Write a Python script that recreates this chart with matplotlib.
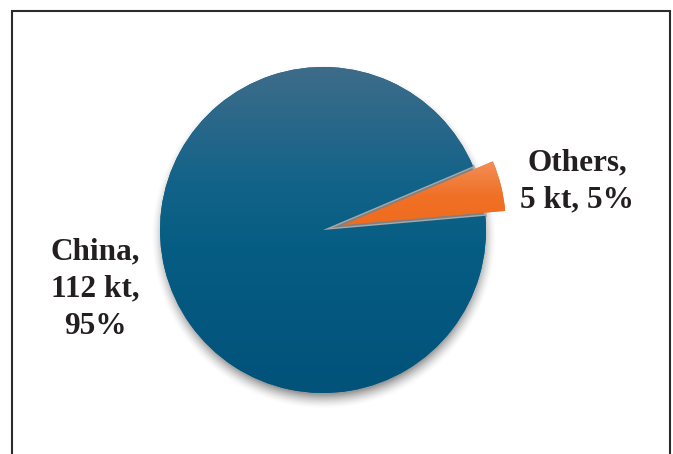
import numpy as np
import matplotlib
matplotlib.use("Agg")
import matplotlib.pyplot as plt
from matplotlib.colors import LinearSegmentedColormap
from matplotlib.patches import Rectangle, Wedge

# data
regions = ['China', 'Others']
amounts_kt = [112, 5]
shares_pct = [95, 5]

W, H, DPI = 673, 454, 100
fig = plt.figure(figsize=(W / DPI, H / DPI), dpi=DPI)
ax = fig.add_axes([0, 0, 1, 1])

wedges, _ = ax.pie(shares_pct, startangle=23, explode=[0, 0.125],
                   colors=['#0a5c82', '#f07025'], radius=1.0,
                   wedgeprops=dict(linewidth=0))

cmaps = [
    LinearSegmentedColormap.from_list('china', [(0, '#3e6c8a'), (0.35, '#136389'),
                                                (0.55, '#065d83'), (1, '#02527a')]),
    LinearSegmentedColormap.from_list('other', [(0, '#f38e58'), (0.55, '#f07025'),
                                                (1, '#ef6c1f')]),
]

# soft shadow under the whole pie
pie = wedges[0]
cx, cy = pie.center
r = pie.r
gx = np.linspace(cx - 1.3, cx + 1.3, 400)
gy = np.linspace(cy - 1.3, cy + 1.3, 400)
X, Y = np.meshgrid(gx, gy)
d = np.hypot(X - cx - 0.005, Y - cy + 0.04)
a = np.clip(1 - (d - (r - 0.03)) / 0.09, 0, 1) ** 1.6 * 0.6
shadow = np.zeros((400, 400, 4))
shadow[..., :3] = 0.33
shadow[..., 3] = a
ax.imshow(shadow, extent=(gx[0], gx[-1], gy[0], gy[-1]), origin='lower',
          zorder=0, interpolation='bilinear')

# shadow of the exploded slice falling on the pie
oth = wedges[1]
sh = Wedge((cx, cy), r, oth.theta1, oth.theta2, facecolor='#808080',
           edgecolor='#a8a8a8', lw=2, zorder=1.5)
ax.add_patch(sh)

# gradient fills clipped to each wedge
grad = np.linspace(1, 0, 256).reshape(-1, 1)
for w, cm in zip(wedges, cmaps):
    ext = w.get_path().transformed(w.get_patch_transform()).get_extents()
    im = ax.imshow(grad, cmap=cm, vmin=0, vmax=1, aspect='auto',
                   extent=(ext.x0, ext.x1, ext.y0, ext.y1), origin='lower',
                   zorder=2, interpolation='bilinear')
    im.set_clip_path(w)
    w.set_zorder(1)

# keep the pie at its place in the frame
px, py, pr = 323, 230, 163
ax.set_xlim(-px / pr, (W - px) / pr)
ax.set_ylim(-(H - py) / pr, py / pr)
ax.set_aspect('equal')
ax.axis('off')

font = dict(family='Liberation Serif', weight='bold', size=22.5, color='#231f20',
            ha='center', va='top', linespacing=1.38)
fig.text(95 / W, 1 - 237 / H,
         f"{regions[0]},\n{amounts_kt[0]} kt,\n{shares_pct[0]}%", **font)
fig.text(577 / W, 1 - 148 / H,
         f"{regions[1]},\n{amounts_kt[1]} kt, {shares_pct[1]}%", **font)

fig.add_artist(Rectangle((12 / W, -0.05), (670 - 12) / W, 1 - 11 / H + 0.05,
                         transform=fig.transFigure, fill=False,
                         edgecolor='#2b2b2b', lw=1.5))

fig.savefig('out.png', dpi=DPI)
